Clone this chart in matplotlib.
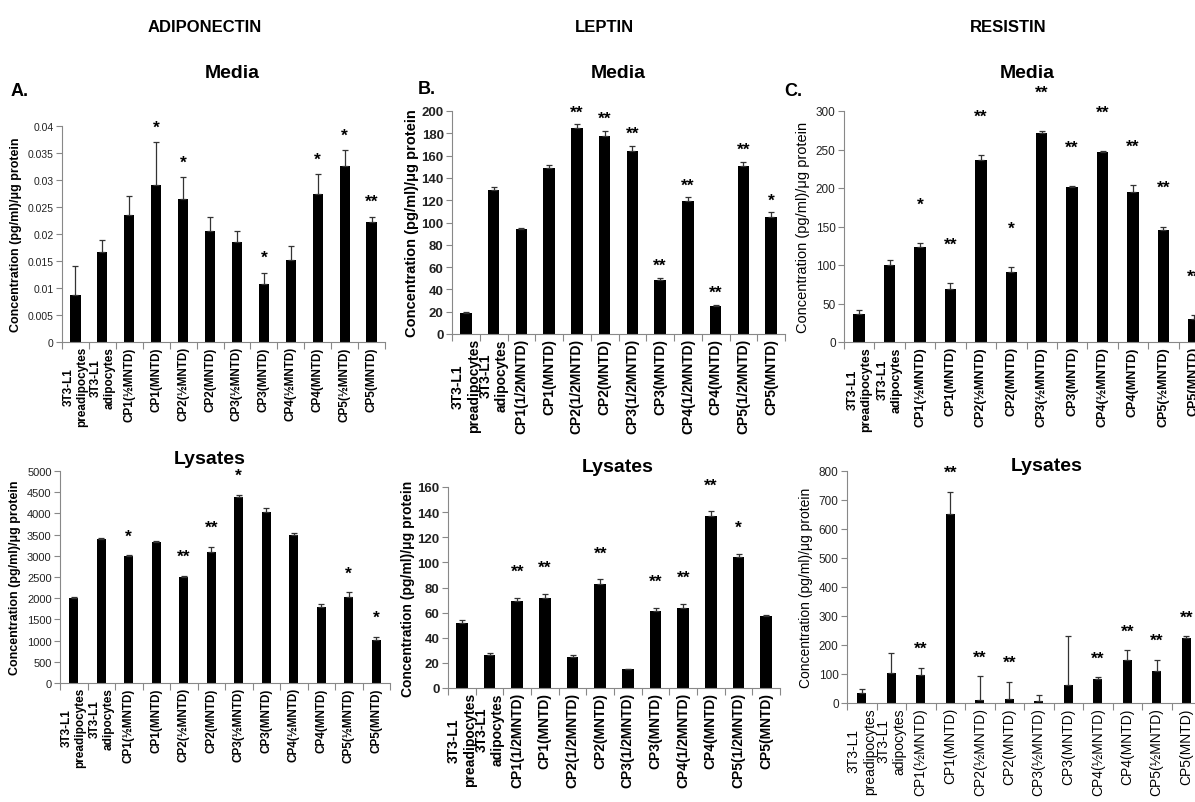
import numpy as np
import matplotlib
matplotlib.use('Agg')
import matplotlib.pyplot as plt

plt.rcParams['font.family'] = ['Liberation Sans', 'DejaVu Sans']

# category labels
cats_half = ['3T3-L1\npreadipocytes', '3T3-L1\nadipocytes', 'CP1(½MNTD)', 'CP1(MNTD)',
             'CP2(½MNTD)', 'CP2(MNTD)', 'CP3(½MNTD)', 'CP3(MNTD)', 'CP4(½MNTD)',
             'CP4(MNTD)', 'CP5(½MNTD)', 'CP5(MNTD)']
cats_slash = ['3T3-L1\npreadipocytes', '3T3-L1\nadipocytes', 'CP1(1/2MNTD)', 'CP1(MNTD)',
              'CP2(1/2MNTD)', 'CP2(MNTD)', 'CP3(1/2MNTD)', 'CP3(MNTD)', 'CP4(1/2MNTD)',
              'CP4(MNTD)', 'CP5(1/2MNTD)', 'CP5(MNTD)']

# adiponectin
adipo_media = [0.0087, 0.0167, 0.0236, 0.029, 0.0265, 0.0206, 0.0185, 0.0107, 0.0151, 0.0274, 0.0326, 0.0222]
adipo_media_err = [0.0053, 0.0021, 0.0035, 0.008, 0.004, 0.0025, 0.002, 0.0021, 0.0026, 0.0037, 0.0029, 0.001]
adipo_media_sig = ['', '', '', '*', '*', '', '', '*', '', '*', '*', '**']
adipo_lys = [2000, 3390, 2990, 3320, 2500, 3080, 4380, 4040, 3490, 1790, 2020, 1020]
adipo_lys_err = [30, 20, 20, 40, 20, 130, 50, 80, 50, 70, 120, 70]
adipo_lys_sig = ['', '', '*', '', '**', '**', '*', '', '', '', '*', '*']

# leptin
leptin_media = [19, 129, 94, 149, 185, 178, 164, 48, 119, 25, 151, 105]
leptin_media_err = [1, 3, 1.5, 3, 3, 4.5, 5, 2, 3.5, 1, 3.5, 4]
leptin_media_sig = ['', '', '', '', '**', '**', '**', '**', '**', '**', '**', '*']
leptin_lys = [52, 26, 69, 72, 25, 83, 15, 61, 64, 137, 104, 57]
leptin_lys_err = [2, 1.5, 3, 3, 1, 3.5, 0.5, 3, 3, 3.5, 3, 1]
leptin_lys_sig = ['', '', '**', '**', '', '**', '', '**', '**', '**', '*', '']

# resistin
resistin_media = [36, 100, 124, 69, 236, 91, 271, 201, 247, 195, 145, 30]
resistin_media_err = [6, 7, 5, 8, 7, 6, 3, 2, 1, 9, 5, 5]
resistin_media_sig = ['', '', '*', '**', '**', '*', '**', '**', '**', '**', '**', '**']
resistin_lys = [33, 103, 95, 651, 10, 14, 8, 62, 82, 148, 110, 224]
resistin_lys_err = [14, 68, 25, 78, 82, 58, 18, 170, 6, 34, 40, 6]
resistin_lys_sig = ['', '', '**', '**', '**', '**', '', '', '**', '**', '**', '**']

ylab = 'Concentration (pg/ml)/μg protein'

W, H = 1195, 803
fig = plt.figure(figsize=(W / 100, H / 100), dpi=100)


def box(l, t, r, b):
    return [l / W, 1 - b / H, (r - l) / W, (b - t) / H]


def ftext(x, y, s, **kw):
    fig.text(x / W, 1 - y / H, s, ha='center', va='center', fontweight='bold', **kw)


def panel(rect, vals, errs, sig, cats, ymax, ystep, width, star_off,
          ylab_kw, ytick_kw, xtick_kw):
    ax = fig.add_axes(rect)
    x = np.arange(len(vals))
    ax.bar(x, vals, width=width, color='black', zorder=2)
    ax.errorbar(x, vals, yerr=[np.zeros(len(vals)), errs], fmt='none', ecolor='#333333',
                elinewidth=0.9, capsize=2, capthick=0.9, zorder=3)
    for xi, v, e, s in zip(x, vals, errs, sig):
        if s:
            ax.annotate(s, (xi, v + e), xytext=(0, star_off), textcoords='offset points',
                        ha='center', va='center', fontsize=12.5, fontweight='bold')
    ax.set_xlim(-0.5, len(vals) - 0.5)
    ax.set_ylim(0, ymax)
    ticks = np.arange(0, ymax + ystep / 2, ystep)
    ax.set_yticks(ticks)
    ax.set_yticklabels(['%g' % t for t in ticks], **ytick_kw)
    ax.set_xticks(np.arange(-0.5, len(vals), 1))
    ax.set_xticklabels([])
    ax.set_xticks(x, minor=True)
    ax.set_xticklabels(cats, minor=True, rotation=90, ha='center', va='top',
                       multialignment='center', **xtick_kw)
    ax.tick_params(axis='x', which='major', length=5, color='#888888', width=0.8)
    ax.tick_params(axis='x', which='minor', length=0, pad=3)
    ax.tick_params(axis='y', length=4, color='#888888', width=0.8, pad=2, labelcolor='#222222')
    for sp in ['top', 'right']:
        ax.spines[sp].set_visible(False)
    for sp in ['left', 'bottom']:
        ax.spines[sp].set_color('#888888')
        ax.spines[sp].set_linewidth(0.8)
    ax.set_ylabel(ylab, **ylab_kw)
    return ax


panel(box(62, 127, 385, 343), adipo_media, adipo_media_err, adipo_media_sig, cats_half,
      0.04, 0.005, 0.38, 11,
      dict(fontsize=9, fontweight='bold', labelpad=4),
      dict(fontsize=7.5), dict(fontsize=8.5, fontweight='bold'))
panel(box(60, 472, 390, 684), adipo_lys, adipo_lys_err, adipo_lys_sig, cats_half,
      5000, 500, 0.33, 14,
      dict(fontsize=9, fontweight='bold', labelpad=4),
      dict(fontsize=8), dict(fontsize=8.5, fontweight='bold'))
panel(box(452, 112, 785, 335), leptin_media, leptin_media_err, leptin_media_sig, cats_slash,
      200, 20, 0.42, 9,
      dict(fontsize=10.5, fontweight='bold', labelpad=2),
      dict(fontsize=9.5, fontweight='bold'), dict(fontsize=10, fontweight='bold'))
panel(box(448, 488, 780, 689), leptin_lys, leptin_lys_err, leptin_lys_sig, cats_slash,
      160, 20, 0.42, 19,
      dict(fontsize=10, fontweight='bold', labelpad=2),
      dict(fontsize=9.5, fontweight='bold'), dict(fontsize=10, fontweight='bold'))
panel(box(844, 112, 1209, 343), resistin_media, resistin_media_err, resistin_media_sig, cats_half,
      300, 50, 0.38, 28,
      dict(fontsize=10.5, labelpad=4),
      dict(fontsize=8.5), dict(fontsize=9, fontweight='bold'))
panel(box(847, 472, 1201, 704), resistin_lys, resistin_lys_err, resistin_lys_sig, cats_half,
      800, 100, 0.32, 14,
      dict(fontsize=10, labelpad=4),
      dict(fontsize=8.5), dict(fontsize=10))

ftext(205, 27, 'ADIPONECTIN', fontsize=12)
ftext(604, 27, 'LEPTIN', fontsize=12)
ftext(1008, 27, 'RESISTIN', fontsize=12)

ftext(232, 74, 'Media', fontsize=14)
ftext(618, 74, 'Media', fontsize=14)
ftext(1027, 73, 'Media', fontsize=14)
ftext(210, 460, 'Lysates', fontsize=14)
ftext(618, 468, 'Lysates', fontsize=14)
ftext(1047, 467, 'Lysates', fontsize=14)

ftext(20, 92, 'A.', fontsize=13)
ftext(427, 90, 'B.', fontsize=13)
ftext(793, 92, 'C.', fontsize=13)

fig.savefig('out.png', dpi=100, facecolor='white')
